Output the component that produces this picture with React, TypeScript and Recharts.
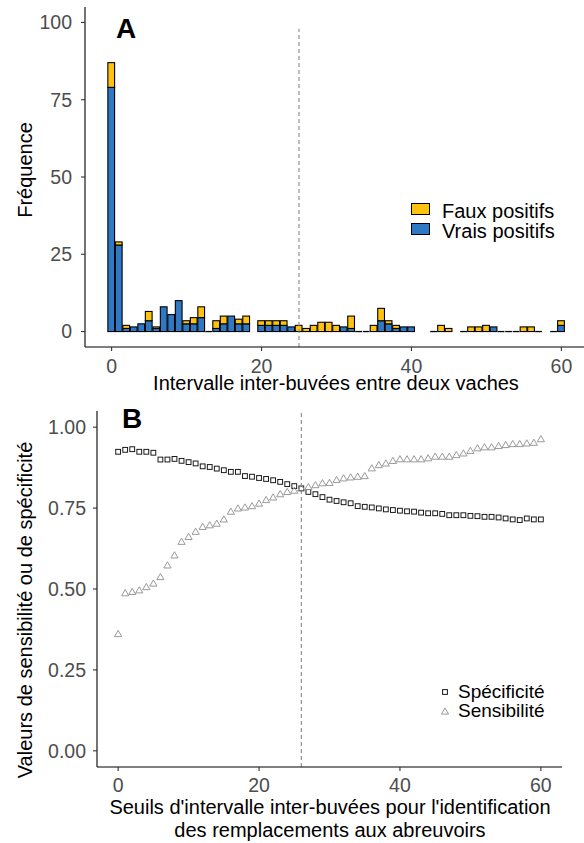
import React from "react";
import {
  BarChart,
  Bar,
  XAxis,
  YAxis,
  ReferenceLine,
  ScatterChart,
  Scatter,
  Legend,
} from "recharts";

const FONT = "'Liberation Sans', Arial, sans-serif";
const BLUE = "#2F78C4";
const YELLOW = "#FFC20E";
const TICK_COLOR = "#4d4d4d";

// Panel A : histogramme des intervalles inter-buvées (null = pas de barre)
const intervalles = [
  0, 1, 2, 3, 4, 5, 6, 7, 8, 9, 10, 11, 12, 13, 14, 15, 16, 17, 18, 19, 20,
  21, 22, 23, 24, 25, 26, 27, 28, 29, 30, 31, 32, 33, 34, 35, 36, 37, 38, 39,
  40, 41, 42, 43, 44, 45, 46, 47, 48, 49, 50, 51, 52, 53, 54, 55, 56, 57, 58,
  59, 60,
];
const vraisPositifs = [
  79, 28, 1, 1.5, 2.5, 3.5, 1, 8, 5.5, 10, 2.5, 2.5, 4.5, 0, 1, 2.5, 5, 2.5,
  2.5, null, 2, 2, 2, 2, 1.5, 0, 0, 0, 0, 0, 0, 1.5, 1, 0, 0, 0, 3.5, 2.5, 1,
  1.5, 1.5, null, null, 0, 0, 0, null, 0, 0, 0, 0, 1.5, 0, 0, 0, 0, 0, 0, null,
  0, 2,
];
const fauxPositifs = [
  8, 1, 1, 0, 0, 3, 0.5, 0, 0, 0, 1, 2, 3.5, 0, 2.5, 2.5, 0, 1.5, 2.5, null,
  1.5, 1.5, 1.5, 1.5, 0, 2, 1, 2, 3, 3, 2, 0, 4, 0, 0, 2, 4, 1, 1, 0, 0, null,
  null, 0, 2, 1, null, 0, 1.5, 1.5, 2, 0, 0, 0, 0, 1.5, 1.5, 0, null, 0, 1.5,
];
const seuilA = 25;

// Panel B : sensibilité et spécificité selon le seuil
const seuils = intervalles;
const sensibilite = [
  0.361, 0.487, 0.491, 0.496, 0.506, 0.517, 0.537, 0.573, 0.604, 0.646, 0.661,
  0.677, 0.692, 0.697, 0.702, 0.715, 0.739, 0.749, 0.752, 0.756, 0.764, 0.775,
  0.783, 0.793, 0.8, 0.804, 0.811, 0.815, 0.821, 0.827, 0.828, 0.837, 0.842,
  0.845, 0.847, 0.849, 0.873, 0.883, 0.888, 0.896, 0.901, 0.901, 0.901, 0.901,
  0.904, 0.909, 0.909, 0.909, 0.914, 0.919, 0.927, 0.935, 0.938, 0.938, 0.942,
  0.945, 0.948, 0.948, 0.95, 0.952, 0.963,
];
const specificite = [
  0.924, 0.93, 0.932, 0.924, 0.924, 0.921, 0.9, 0.9, 0.902, 0.896, 0.892,
  0.888, 0.879, 0.877, 0.872, 0.867, 0.862, 0.862, 0.849, 0.847, 0.843, 0.84,
  0.836, 0.831, 0.824, 0.818, 0.811, 0.8, 0.793, 0.784, 0.776, 0.772, 0.768,
  0.765, 0.756, 0.754, 0.752, 0.749, 0.746, 0.744, 0.742, 0.74, 0.739, 0.736,
  0.734, 0.734, 0.732, 0.728, 0.728, 0.728, 0.726, 0.725, 0.723, 0.723, 0.721,
  0.718, 0.715, 0.713, 0.718, 0.715, 0.715,
];
const seuilB = 26;

const histData = intervalles.map((x, i) => ({
  x,
  vrai: vraisPositifs[i],
  faux: fauxPositifs[i],
}));
const sensData = seuils.map((x, i) => ({ x, y: sensibilite[i] }));
const specData = seuils.map((x, i) => ({ x, y: specificite[i] }));

const tickStyle = { fill: TICK_COLOR, fontSize: 19.5, fontFamily: FONT };
const axisLine = { stroke: "#000", strokeWidth: 1.1 };
const tickLine = { stroke: "#333", strokeWidth: 1.1 };
const titleStyle = { fill: "#000", fontSize: 20, fontFamily: FONT };

function HistBar(props: any) {
  const { x, y, width, height, fill, payload, serie } = props;
  if (payload == null || payload.vrai === null) return null;
  const h = Math.abs(height || 0);
  if (h < 0.01) {
    // ggplot trace un trait noir pour les classes vides
    if (serie === "vrai" && payload.vrai === 0 && payload.faux === 0) {
      return (
        <line x1={x} x2={x + width} y1={y} y2={y} stroke="#000" strokeWidth={1.3} />
      );
    }
    return null;
  }
  return (
    <rect
      x={x}
      y={Math.min(y, y + height)}
      width={width}
      height={h}
      fill={fill}
      stroke="#000"
      strokeWidth={1.1}
    />
  );
}

function Triangle(props: any) {
  const { cx, cy } = props;
  return (
    <polygon
      points={`${cx},${cy - 3.6} ${cx - 3.6},${cy + 2.6} ${cx + 3.6},${cy + 2.6}`}
      fill="none"
      stroke="#9a9a9a"
      strokeWidth={1}
    />
  );
}

function Carre(props: any) {
  const { cx, cy } = props;
  return (
    <rect x={cx - 2.4} y={cy - 2.4} width={4.8} height={4.8} fill="none" stroke="#1a1a1a" strokeWidth={1} />
  );
}

const legendA = () => (
  <div style={{ fontFamily: FONT, fontSize: 20, color: "#000" }}>
    {[
      { label: "Faux positifs", color: YELLOW },
      { label: "Vrais positifs", color: BLUE },
    ].map((s) => (
      <div key={s.label} style={{ display: "flex", alignItems: "center", height: 20 }}>
        <span
          style={{
            width: 17,
            height: 10,
            background: s.color,
            border: "1.3px solid #000",
            marginRight: 12,
          }}
        />
        <span style={{ position: "relative", top: 2, lineHeight: "20px" }}>{s.label}</span>
      </div>
    ))}
  </div>
);

const legendB = () => (
  <div style={{ fontFamily: FONT, fontSize: 19, color: "#000" }}>
    {[
      { label: "Spécificité", shape: "carre" },
      { label: "Sensibilité", shape: "tri" },
    ].map((s) => (
      <div key={s.label} style={{ display: "flex", alignItems: "center", height: 19 }}>
        <svg width={10} height={10} style={{ marginRight: 8 }}>
          {s.shape === "carre" ? <Carre cx={5} cy={5} /> : <Triangle cx={5} cy={5.5} />}
        </svg>
        <span style={{ lineHeight: "19px" }}>{s.label}</span>
      </div>
    ))}
  </div>
);

export default function App() {
  return (
    <div
      style={{
        position: "absolute",
        left: 0,
        top: 0,
        width: 584,
        height: 843,
        overflow: "hidden",
        background: "#fff",
      }}
    >
      <div style={{ position: "absolute", left: 0, top: 0 }}>
        <BarChart
          width={600}
          height={396}
          data={histData}
          margin={{ top: 7, right: 12, bottom: 0, left: 0 }}
        >
          <XAxis
            dataKey="x"
            type="number"
            domain={[-3.55, 63.55]}
            ticks={[0, 20, 40, 60]}
            height={49}
            tickSize={4}
            tickMargin={8}
            axisLine={axisLine}
            tickLine={tickLine}
            tick={tickStyle}
            label={() => (
              <text x={336} y={390} textAnchor="middle" {...titleStyle}>
                Intervalle inter-buvées entre deux vaches
              </text>
            )}
          />
          <YAxis
            type="number"
            domain={[-5, 105]}
            ticks={[0, 25, 50, 75, 100]}
            width={85}
            tickSize={4}
            tickMargin={9}
            axisLine={axisLine}
            tickLine={tickLine}
            tick={tickStyle}
            label={() => (
              <g>
                <text x={32} y={170} transform="rotate(-90 32 170)" textAnchor="middle" {...titleStyle}>
                  Fréquence
                </text>
                <text x={126} y={38} textAnchor="middle" fontSize={28} fontWeight="bold" fontFamily={FONT} fill="#000">
                  A
                </text>
              </g>
            )}
          />
          <ReferenceLine
            segment={[
              { x: seuilA, y: -5 },
              { x: seuilA, y: 98 },
            ]}
            stroke="#8a8a8a"
            strokeDasharray="4 3"
            strokeWidth={1.1}
          />
          <Bar
            dataKey="vrai"
            stackId="a"
            fill={BLUE}
            barSize={7.5}
            isAnimationActive={false}
            shape={(p: any) => <HistBar {...p} serie="vrai" />}
          />
          <Bar
            dataKey="faux"
            stackId="a"
            fill={YELLOW}
            barSize={7.5}
            isAnimationActive={false}
            shape={(p: any) => <HistBar {...p} serie="faux" />}
          />
          <Legend
            content={legendA}
            layout="horizontal"
            verticalAlign="middle"
            align="center"
            wrapperStyle={{ left: 411, top: 199, width: "auto" }}
          />
        </BarChart>
      </div>

      <div style={{ position: "absolute", left: 0, top: 390 }}>
        <ScatterChart
          width={584}
          height={453}
          margin={{ top: 21, right: 22, bottom: 0, left: 0 }}
        >
          <XAxis
            dataKey="x"
            type="number"
            domain={[-3, 63]}
            ticks={[0, 20, 40, 60]}
            height={76}
            tickSize={4}
            tickMargin={7}
            axisLine={axisLine}
            tickLine={tickLine}
            tick={tickStyle}
            label={() => (
              <text textAnchor="middle" {...titleStyle}>
                <tspan x={330} y={424}>
                  Seuils d'intervalle inter-buvées pour l'identification
                </tspan>
                <tspan x={330} y={446.5}>
                  des remplacements aux abreuvoirs
                </tspan>
              </text>
            )}
          />
          <YAxis
            dataKey="y"
            type="number"
            domain={[-0.05, 1.05]}
            ticks={[0, 0.25, 0.5, 0.75, 1]}
            tickFormatter={(v: number) => v.toFixed(2)}
            width={97}
            tickSize={4}
            tickMargin={7}
            axisLine={axisLine}
            tickLine={tickLine}
            tick={tickStyle}
            label={() => (
              <g>
                <text x={32} y={220} transform="rotate(-90 32 220)" textAnchor="middle" {...titleStyle}>
                  Valeurs de sensibilité ou de spécificité
                </text>
                <text x={132} y={38} textAnchor="middle" fontSize={28} fontWeight="bold" fontFamily={FONT} fill="#000">
                  B
                </text>
              </g>
            )}
          />
          <ReferenceLine
            x={seuilB}
            stroke="#8a8a8a"
            strokeDasharray="4 3"
            strokeWidth={1.1}
          />
          <Scatter data={specData} shape={Carre} isAnimationActive={false} />
          <Scatter data={sensData} shape={Triangle} isAnimationActive={false} />
          <Legend
            content={legendB}
            layout="horizontal"
            verticalAlign="middle"
            align="center"
            wrapperStyle={{ left: 440, top: 292, width: "auto" }}
          />
        </ScatterChart>
      </div>
    </div>
  );
}
